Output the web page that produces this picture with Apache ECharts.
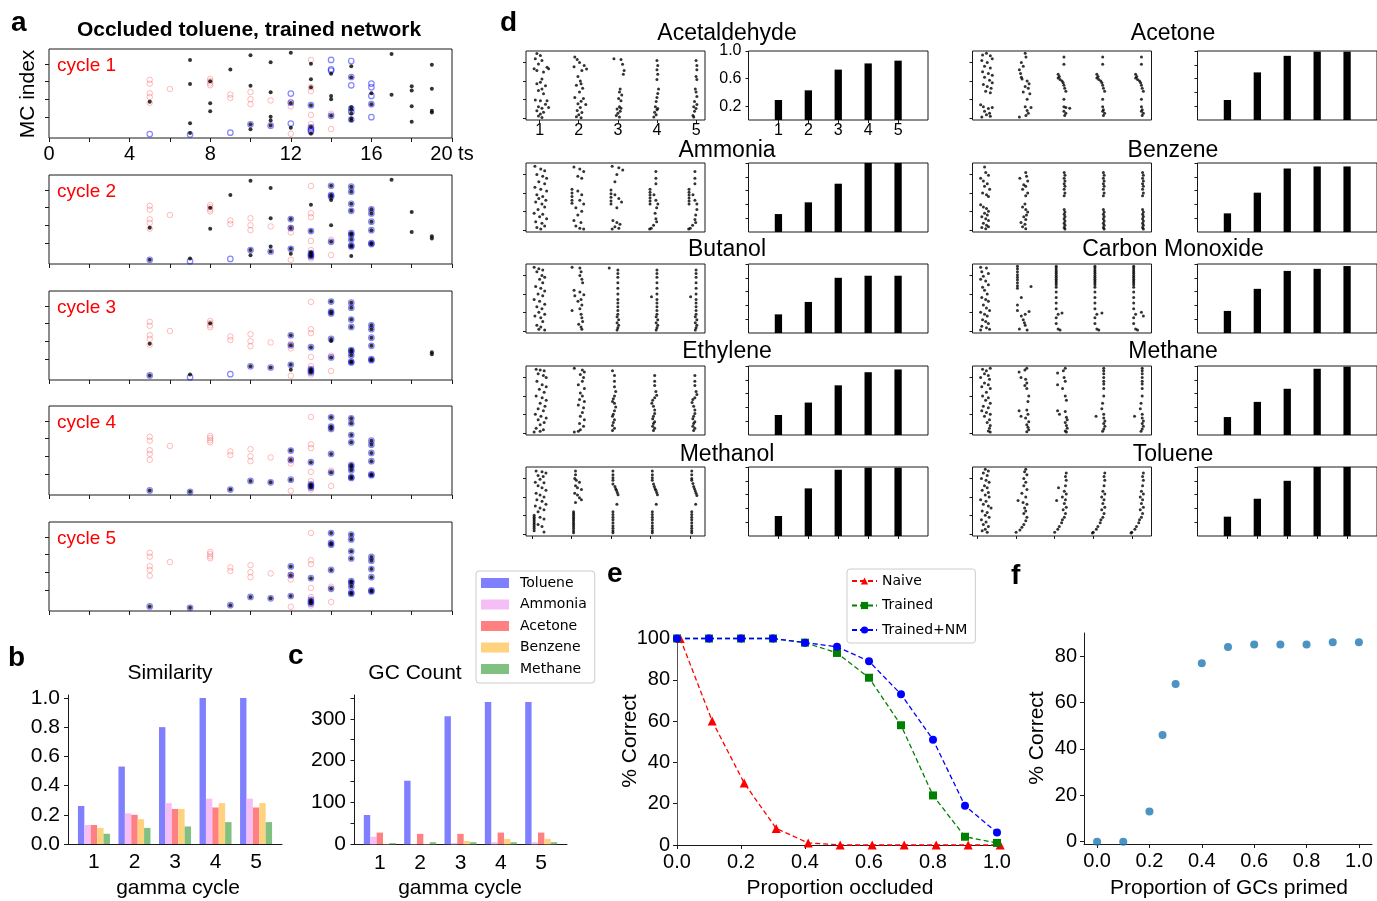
<!DOCTYPE html>
<html>
<head>
<meta charset="utf-8">
<script src="https://cdn.jsdelivr.net/npm/echarts@6/dist/echarts.min.js"></script>
<style>
html, body { margin: 0; padding: 0; background: #fff; }
#main { width: 1377px; height: 901px; }
</style>
</head>
<body>
<div id="main"></div>
<script>
// ---------- panel a : spike rasters, [time step, MC index] ----------
var pinkInput = [[5,31],[5,28.8],[5,23.4],[5,21.3],[5,18],[6,25.8],[8,31.5],[8,30.3],[8,29],[8,27.9],[9,22.7],[9,20.7],
  [10,24],[10,20],[10,17.2],[11,19.3],[12,18.5],[12,15.9],[12,0.4],[13,42.3],[13,26.8],[13,24.6],[13,11.1],[13,5.9],[13,1.1],[14,11.8],[14,3.1]];

var c1Navy = [];
var c1Blue = [[5,0.2],[7,0],[9,1],[10,5.8],[11,5],[12,23.2],[12,18],[12,6.2],[13,16.6],[13,4],[13,2.8],[13,1.9],[14,42.3],[14,37],[14,36.2],[14,10.6],
  [15,41.7],[15,32.6],[15,27.9],[15,14.7],[15,12.8],[15,8.5],[16,28.9],[16,26.8],[16,21.9],[16,17.2],[16,9.8]];
var c1Black = [[5,18.5],[7,42.3],[7,28.7],[7,6.4],[7,0.9],[8,30.2],[8,17.7],[8,13.2],[9,36.8],[10,44.9],[10,27.7],[10,5.8],[10,3],
  [11,41],[11,24],[11,10],[11,7.9],[11,5.1],[12,46.4],[12,17.9],[12,3.8],[13,40.2],[13,31.3],[13,26.8],[13,16.6],[13,4.3],[13,0.6],
  [14,34.5],[14,21.9],[14,20],[14,10.6],[15,38.7],[15,32.5],[15,15.5],[15,14.2],[15,11.9],[15,9],[15,8.1],[16,23.4],[16,17.2],
  [17,45.7],[17,22.5],[18,27.4],[18,24.9],[18,16],[18,7.2],[19,39.6],[19,26],[19,13.4],[19,12.5]];

var c2Navy = [[5,0.4],[10,5.9],[11,5.1],[12,23.5],[12,18.4],[12,6.6],[13,16.7],[13,4.2],[13,3],[13,2.3],[14,42.4],[14,37.1],[14,36.2],[14,10.6],
  [15,41.9],[15,39],[15,32.2],[15,28.2],[15,15.5],[15,14.6],[15,11.9],[15,8.5],[15,8],[16,29],[16,26.7],[16,22],[16,17.2],[16,9.8],[16,9.3]];
var c2Blue = [[7,-0.4],[9,0.9]];
var c2Black = [[5,18.6],[7,1.1],[8,29.9],[8,18],[9,37.1],[10,45.3],[10,3],[11,41.1],[11,24],[11,8],[12,3.8],[13,31.6],[13,4.5],
  [14,34.3],[14,20],[15,2.5],[17,45.8],[18,27.5],[18,16.1],[19,13.8],[19,12.5]];

var c3Navy = [[5,0.6],[10,5.8],[11,5.1],[12,23.4],[12,17.7],[12,6.6],[13,16.6],[13,4.2],[13,3.2],[13,2.3],[14,42.5],[14,36.8],[14,35.8],[14,21.3],[14,10.8],
  [15,41.9],[15,39],[15,32.3],[15,28.1],[15,15],[15,14.2],[15,12],[15,8.5],[15,7.9],[16,29],[16,26.8],[16,22],[16,17.4],[16,9.8],[16,9.2]];
var c3Blue = [[7,-0.4],[9,1.3]];
var c3Black = [[5,18.5],[7,1.1],[8,30.2],[12,3.8],[14,20.2],[19,13.8],[19,12.6]];

var c4Navy = [[5,0.6],[7,-0.2],[9,1.1],[10,6],[11,5.2],[12,23.2],[12,17.8],[12,6.7],[13,16.6],[13,4.1],[13,3.2],[13,2.2],[14,42.1],[14,36.8],[14,35.5],[14,21.3],[14,10.7],
  [15,41.5],[15,38.7],[15,32],[15,27.9],[15,15],[15,14],[15,12],[15,8.2],[15,7.7],[16,28.8],[16,26.5],[16,21.9],[16,17.2],[16,9.7],[16,9.2]];
var c4Blue = [];
var c4Black = [];

var c5Navy = [[5,0.6],[7,-0.2],[9,1.3],[10,6],[11,5.2],[12,23.3],[12,18.3],[12,6.5],[13,16.6],[13,4.3],[13,3.2],[13,2.2],[14,42.2],[14,36.6],[14,35.6],[14,21.3],[14,10.6],
  [15,41.4],[15,38.6],[15,31.9],[15,27.8],[15,14.9],[15,14],[15,11.9],[15,8.4],[15,7.8],[16,28.7],[16,26.5],[16,21.8],[16,17.2],[16,9.7],[16,9.1]];
var c5Blue = [];
var c5Black = [];

// ---------- panels b, c ----------
var cycles = [1, 2, 3, 4, 5];
var odorNames = ['Toluene', 'Ammonia', 'Acetone', 'Benzene', 'Methane'];
var odorColors = ['#8080ff', '#f5bff5', '#ff8080', '#ffd280', '#80c080'];
var simToluene = [0.26, 0.53, 0.80, 1.0, 1.0];
var simAmmonia = [0.13, 0.21, 0.28, 0.31, 0.31];
var simAcetone = [0.13, 0.20, 0.24, 0.25, 0.25];
var simBenzene = [0.11, 0.17, 0.24, 0.28, 0.28];
var simMethane = [0.07, 0.11, 0.12, 0.15, 0.15];
var gcToluene = [70, 152, 306, 340, 340];
var gcAmmonia = [18, 1, 3, 5, 5];
var gcAcetone = [28, 25, 25, 28, 28];
var gcBenzene = [1, 1, 8, 13, 13];
var gcMethane = [3, 5, 5, 5, 5];

// ---------- panel d : rasters as [offset from cycle (x100), MC index] per cycle ----------
var rasterAcetaldehyde = [
  [[-7,174],[2,169],[-11,160],[6,155],[-3,146],[-14,133],[-7,128],[19,137],[23,133],[10,124],[6,105],[2,96],[-7,92],[15,87],[6,78],[-3,74],[10,65],[-11,48],[2,46],[19,46],[15,37],[-3,30],[6,26],[23,28],[-7,19],[10,15],[2,10],[-3,5],[6,1]],
  [[-10,165],[-4,158],[2,150],[14,142],[-12,138],[8,128],[20,132],[-2,112],[4,100],[6,92],[-6,88],[10,80],[2,70],[-10,55],[12,52],[6,45],[-2,38],[18,36],[4,28],[-4,20],[8,14],[0,8],[-6,3],[6,0]],
  [[-10,160],[8,158],[12,145],[16,128],[14,118],[6,78],[4,70],[10,62],[2,52],[8,46],[4,30],[-2,24],[6,18],[0,12],[-4,6],[4,2],[8,26]],
  [[0,155],[2,142],[0,130],[2,118],[0,104],[4,78],[2,66],[0,55],[-2,44],[-4,30],[0,22],[-6,15],[-2,8],[-8,2],[2,25]],
  [[0,155],[2,142],[2,130],[0,112],[2,104],[-2,78],[0,70],[2,58],[-4,44],[-6,30],[0,25],[-4,18],[-8,6],[-6,2],[2,36]]
];
var rasterAmmonia = [
  [[10,172],[25,165],[35,160],[15,150],[30,145],[40,140],[20,130],[35,125],[10,115],[25,110],[40,105],[15,95],[30,90],[20,85],[38,80],[12,75],[28,70],[35,62],[18,55],[8,45],[30,42],[22,35],[40,30],[12,22],[28,18],[35,10],[15,6],[25,2]],
  [[10,170],[25,165],[35,158],[20,145],[30,140],[5,110],[5,100],[5,90],[5,80],[5,72],[20,105],[30,95],[25,80],[35,70],[15,60],[30,50],[20,40],[10,25],[28,20],[15,10],[25,4],[35,2]],
  [[8,172],[25,168],[35,162],[20,150],[15,130],[5,108],[5,98],[5,88],[5,78],[5,70],[15,95],[25,85],[32,75],[20,60],[10,25],[20,20],[28,15],[15,8],[25,4],[8,2]],
  [[20,158],[20,140],[20,125],[5,110],[5,102],[5,94],[5,86],[5,78],[5,70],[15,95],[20,80],[25,70],[22,60],[18,45],[20,30],[22,22],[14,12],[8,4],[4,2]],
  [[20,158],[20,140],[20,125],[5,110],[5,102],[5,94],[5,86],[5,78],[5,70],[15,95],[20,80],[25,70],[25,55],[22,40],[20,28],[22,20],[14,12],[8,4],[4,2]]
];
var rasterButanol = [
  [[8,172],[20,168],[30,165],[15,160],[28,150],[35,145],[22,140],[30,130],[12,120],[25,115],[35,108],[18,100],[30,95],[8,85],[22,80],[35,72],[15,65],[28,60],[20,50],[35,45],[10,40],[25,35],[30,25],[15,15],[25,10],[20,4],[35,2]],
  [[5,172],[25,170],[28,160],[25,150],[30,140],[32,130],[10,110],[25,105],[35,98],[12,95],[28,85],[20,80],[30,70],[5,55],[25,60],[28,45],[30,35],[32,25],[22,18],[28,10],[30,4]],
  [[0,170],[22,165],[22,155],[22,145],[22,130],[22,115],[22,100],[22,85],[22,75],[22,65],[22,55],[22,45],[20,38],[24,30],[20,22],[24,15],[22,8],[20,2]],
  [[22,165],[22,155],[22,145],[22,130],[22,115],[22,100],[8,92],[22,85],[22,75],[22,65],[22,55],[22,45],[20,38],[24,30],[20,22],[24,15],[22,8],[20,2]],
  [[22,165],[22,155],[22,145],[22,130],[22,115],[22,100],[8,92],[22,85],[22,75],[22,65],[22,55],[22,45],[20,38],[24,30],[20,22],[24,15],[22,8],[20,2]]
];
var rasterEthylene = [
  [[10,172],[20,170],[30,168],[15,160],[28,155],[35,150],[12,140],[25,130],[35,125],[18,118],[30,110],[10,100],[25,95],[35,88],[20,80],[32,72],[15,65],[28,60],[8,50],[22,45],[35,40],[15,35],[30,28],[20,22],[10,12],[28,8],[5,2],[20,4]],
  [[5,175],[25,170],[30,165],[20,158],[28,150],[25,140],[15,130],[30,120],[20,108],[25,100],[18,90],[30,85],[15,75],[28,68],[25,55],[20,45],[30,35],[18,25],[28,18],[5,2],[20,8],[15,4]],
  [[0,168],[5,155],[5,140],[5,125],[8,112],[5,100],[2,92],[0,85],[5,80],[8,70],[5,60],[2,50],[0,45],[5,35],[2,28],[0,20],[5,12],[0,6]],
  [[5,155],[5,140],[5,128],[8,112],[10,102],[5,95],[0,88],[-2,80],[2,72],[5,62],[5,52],[2,45],[0,38],[5,30],[2,25],[0,18],[5,12],[2,6]],
  [[5,155],[5,140],[5,128],[8,112],[10,104],[5,95],[0,90],[-2,82],[2,72],[5,62],[5,52],[2,45],[0,38],[5,30],[2,25],[0,18],[5,12],[2,6]]
];
var rasterMethanol = [
  [[10,170],[25,168],[35,165],[15,158],[28,155],[20,148],[8,140],[30,138],[15,130],[25,125],[35,118],[10,110],[20,105],[30,100],[12,92],[25,88],[35,80],[8,75],[20,70],[30,65],[15,60],[5,50],[5,45],[5,40],[5,35],[5,30],[5,25],[5,20],[5,14],[5,8],[20,45],[30,40],[15,25],[25,20],[30,5]],
  [[10,170],[10,160],[8,150],[12,145],[20,140],[10,130],[15,125],[25,120],[8,110],[15,105],[20,98],[25,92],[10,85],[5,60],[5,55],[5,50],[5,45],[5,40],[5,35],[5,30],[5,25],[5,20],[5,14],[5,8],[5,3]],
  [[5,170],[5,160],[5,152],[5,145],[5,135],[10,128],[12,122],[14,118],[16,112],[18,106],[15,80],[5,60],[5,52],[5,45],[5,38],[5,30],[5,22],[5,15],[5,8],[5,3]],
  [[5,170],[5,160],[5,152],[5,145],[8,135],[10,128],[12,122],[14,118],[16,112],[18,106],[15,80],[5,60],[5,52],[5,45],[5,38],[5,30],[5,22],[5,15],[5,8],[5,3]],
  [[5,170],[5,160],[5,150],[5,145],[8,136],[10,128],[12,122],[14,116],[16,110],[18,104],[15,80],[5,60],[5,52],[5,45],[5,38],[5,30],[5,22],[5,15],[5,8],[5,3]]
];
var rasterAcetone = [
  [[10,170],[20,175],[30,168],[35,160],[8,155],[22,150],[15,140],[30,135],[10,125],[25,120],[35,115],[15,110],[28,102],[35,95],[12,90],[22,85],[32,80],[18,72],[30,68],[5,35],[12,30],[25,25],[35,28],[15,18],[28,12],[20,8],[8,2],[30,4]],
  [[20,175],[22,165],[10,150],[15,140],[5,130],[8,120],[10,110],[12,105],[25,100],[30,92],[20,85],[28,80],[15,70],[32,65],[25,50],[20,30],[35,28],[25,20],[28,12],[22,6],[5,2]],
  [[20,165],[20,145],[5,118],[8,112],[5,108],[10,104],[15,100],[18,95],[20,88],[22,80],[25,72],[20,50],[20,30],[25,28],[35,26],[20,18],[25,12],[22,6]],
  [[20,165],[20,145],[5,118],[8,112],[5,108],[10,104],[15,100],[18,95],[20,88],[22,80],[25,72],[20,50],[20,30],[22,22],[20,18],[25,12],[22,6]],
  [[20,165],[20,145],[5,118],[8,112],[5,108],[10,104],[15,100],[18,95],[20,88],[22,80],[25,72],[20,50],[20,30],[22,22],[20,18],[25,12],[22,6]]
];
var rasterBenzene = [
  [[15,170],[18,155],[5,140],[25,148],[12,132],[22,125],[15,118],[28,110],[10,100],[20,95],[25,90],[5,68],[12,62],[20,58],[25,50],[15,45],[22,40],[8,35],[18,30],[25,25],[12,18],[20,12],[8,6],[18,3],[25,8]],
  [[20,155],[22,145],[5,140],[25,132],[15,122],[20,118],[12,110],[25,100],[20,92],[18,70],[12,62],[20,55],[25,48],[22,40],[15,35],[20,28],[8,20],[18,15],[12,8],[20,3]],
  [[18,155],[20,148],[18,140],[20,132],[18,125],[20,118],[18,110],[20,100],[18,92],[18,55],[20,48],[18,42],[20,36],[18,30],[20,24],[18,18],[20,12],[18,6],[20,2]],
  [[18,155],[20,148],[18,140],[20,132],[18,125],[20,118],[18,110],[20,100],[18,92],[18,55],[20,48],[18,42],[20,36],[18,30],[20,24],[18,18],[20,12],[18,6],[20,2]],
  [[18,155],[20,148],[18,140],[20,132],[18,125],[20,118],[18,110],[20,100],[18,92],[18,55],[20,48],[18,42],[20,36],[18,30],[20,24],[18,18],[20,12],[18,6],[20,2]]
];
var rasterCarbonMonoxide = [
  [[5,172],[20,170],[8,160],[25,155],[12,148],[5,140],[18,135],[25,125],[10,118],[15,110],[22,100],[8,90],[18,85],[25,80],[12,70],[20,62],[28,55],[5,50],[15,45],[22,40],[10,30],[18,25],[25,20],[8,12],[20,8],[28,4],[5,2]],
  [[0,175],[0,168],[0,160],[0,152],[0,145],[0,138],[0,130],[0,122],[0,115],[35,120],[10,90],[0,70],[0,55],[30,52],[20,45],[10,40],[15,30],[18,22],[20,15],[5,5],[25,2]],
  [[0,175],[0,170],[0,165],[0,160],[0,155],[0,150],[0,145],[0,140],[0,135],[0,130],[0,125],[0,118],[0,105],[0,90],[0,75],[0,60],[5,45],[15,48],[0,35],[0,20],[5,5],[10,2]],
  [[0,175],[0,170],[0,165],[0,160],[0,155],[0,150],[0,145],[0,140],[0,135],[0,130],[0,125],[0,118],[0,105],[0,90],[0,75],[0,60],[5,45],[18,48],[0,35],[0,20],[5,5],[10,2]],
  [[0,175],[0,170],[0,165],[0,160],[0,155],[0,150],[0,145],[0,140],[0,135],[0,130],[0,125],[0,118],[0,105],[0,90],[0,75],[0,60],[5,45],[20,50],[0,35],[0,20],[5,5],[10,2],[25,40]]
];
var rasterMethane = [
  [[10,172],[20,168],[30,175],[15,160],[25,155],[5,150],[28,145],[15,135],[25,130],[8,125],[30,120],[20,110],[10,100],[25,95],[18,88],[30,80],[12,72],[25,68],[8,60],[20,55],[30,50],[15,45],[28,35],[22,28],[30,20],[28,12],[25,5],[30,2]],
  [[5,165],[20,170],[25,175],[10,150],[22,145],[25,135],[20,128],[25,120],[30,100],[28,85],[5,60],[25,62],[28,50],[10,45],[22,40],[30,30],[25,22],[28,15],[30,8],[25,3]],
  [[5,162],[20,168],[25,175],[22,150],[25,140],[5,130],[18,120],[25,100],[28,88],[5,60],[10,50],[25,58],[28,42],[30,35],[25,28],[28,20],[30,12],[25,5],[28,2]],
  [[25,175],[25,168],[25,160],[25,150],[25,140],[25,132],[25,120],[25,100],[22,80],[20,65],[5,45],[25,50],[25,40],[28,32],[25,25],[28,18],[25,10],[22,4]],
  [[25,175],[25,168],[25,160],[25,150],[25,140],[25,132],[25,120],[25,100],[22,80],[20,65],[5,45],[25,50],[25,40],[28,32],[25,25],[28,18],[25,10],[22,4]]
];
var rasterToluene = [
  [[20,175],[28,170],[15,165],[25,158],[10,150],[22,145],[30,140],[18,130],[25,125],[12,118],[28,112],[20,105],[30,100],[8,92],[22,88],[15,80],[28,75],[35,70],[12,62],[25,58],[20,50],[30,45],[10,38],[22,32],[15,25],[28,20],[20,12],[12,8],[25,4]],
  [[25,175],[22,168],[28,160],[20,150],[25,140],[20,130],[28,120],[15,110],[25,100],[5,90],[18,85],[28,80],[22,70],[25,62],[20,55],[28,45],[25,35],[20,25],[15,18],[10,10],[0,4]],
  [[30,165],[28,155],[30,145],[28,130],[10,125],[25,115],[30,108],[20,100],[28,92],[5,90],[25,82],[30,72],[22,65],[28,55],[25,45],[20,38],[18,30],[12,20],[8,12],[0,4]],
  [[30,165],[28,155],[30,145],[28,130],[25,115],[30,108],[22,100],[28,92],[25,82],[30,72],[22,65],[28,55],[25,45],[20,38],[18,30],[12,20],[8,12],[0,4],[-2,2]],
  [[30,165],[28,155],[30,145],[28,130],[25,115],[30,108],[22,100],[28,92],[25,82],[30,72],[22,65],[28,55],[25,45],[20,38],[18,30],[12,20],[8,12],[0,4],[-2,2]]
];
var barAcetaldehyde = [0.29, 0.43, 0.73, 0.82, 0.86];
var barAmmonia = [0.26, 0.43, 0.70, 1.0, 1.0];
var barButanol = [0.27, 0.45, 0.80, 0.83, 0.83];
var barEthylene = [0.29, 0.47, 0.72, 0.91, 0.95];
var barMethanol = [0.29, 0.69, 0.96, 0.99, 0.99];
var barAcetone = [0.29, 0.69, 0.93, 0.99, 0.99];
var barBenzene = [0.27, 0.57, 0.92, 0.95, 0.95];
var barCarbonMonoxide = [0.32, 0.64, 0.90, 0.93, 0.97];
var barMethane = [0.26, 0.48, 0.67, 0.96, 0.99];
var barToluene = [0.28, 0.54, 0.80, 1.0, 1.0];

// ---------- panel e ----------
var occluded = [0, 0.1, 0.2, 0.3, 0.4, 0.5, 0.6, 0.7, 0.8, 0.9, 1.0];
var naiveOccluded = [0.01, 0.11, 0.21, 0.31, 0.41, 0.51, 0.61, 0.71, 0.81, 0.91, 1.01];
var naiveCorrect = [100, 60, 30, 8, 1, 0, 0, 0, 0, 0, 0];
var trainedCorrect = [100, 100, 100, 100, 98, 93, 81, 58, 24, 4, 1];
var trainedNMCorrect = [100, 100, 100, 100, 98, 96, 89, 73, 51, 19, 6];

// ---------- panel f ----------
var primedFrac = [0, 0.1, 0.2, 0.25, 0.3, 0.4, 0.5, 0.6, 0.7, 0.8, 0.9, 1.0];
var primedCorrect = [0, 0, 13, 46, 68, 77, 84, 85, 85, 85, 86, 86];

var FONT = '"Liberation Sans", Arial, sans-serif';
var INK = '#1a1a1a';
var grid = [], xAxis = [], yAxis = [], series = [], graphic = [];

function panel(g, xa, ya) {
  g.outerBoundsMode = 'none';
  g.containLabel = false;
  grid.push(g);
  var i = grid.length - 1;
  xa.gridIndex = i; ya.gridIndex = i;
  xAxis.push(xa); yAxis.push(ya);
  return i;
}
function boxGrid(left, top, w, h) {
  return { left: left, top: top, width: w, height: h, show: true, borderColor: INK, borderWidth: 1, backgroundColor: 'rgba(0,0,0,0)' };
}
function openGrid(left, top, w, h) {
  return { left: left, top: top, width: w, height: h, show: false };
}
function axis(o) {
  var a = { type: 'value', splitLine: { show: false }, axisLine: { show: false, onZero: false },
    axisTick: { show: false }, axisLabel: { show: false }, minorTick: { show: false } };
  for (var k in o) a[k] = o[k];
  return a;
}
function ticks(vals, len) {
  var t = { show: true, inside: false, length: len || 4, lineStyle: { color: INK, width: 1 } };
  if (vals) t.customValues = vals;
  return t;
}
function labels(size, margin, extra) {
  var l = { show: true, fontSize: size, color: '#000', fontFamily: FONT, margin: margin };
  for (var k in extra) l[k] = extra[k];
  return l;
}
function spine(color) {
  return { show: true, onZero: false, lineStyle: { color: color || INK, width: 1 } };
}
function txt(x, y, s, size, opt) {
  opt = opt || {};
  return { type: 'text', x: x, y: y, rotation: opt.rot || 0, z: 100, silent: true,
    style: { text: s, font: (opt.bold ? 'bold ' : '') + size + 'px ' + FONT, fill: opt.color || '#000',
      textAlign: opt.align || 'center', textVerticalAlign: 'middle' } };
}
function dots(gi, data, size, style, z) {
  return { type: 'scatter', xAxisIndex: gi, yAxisIndex: gi, data: data, symbol: 'circle',
    symbolSize: size, itemStyle: style, z: z, silent: true, animation: false };
}

// ---------- panel a ----------
var aTops = [49, 175, 291, 406, 522];
var aCycles = [[c1Navy, c1Blue, c1Black], [c2Navy, c2Blue, c2Black], [c3Navy, c3Blue, c3Black],
  [c4Navy, c4Blue, c4Black], [c5Navy, c5Blue, c5Black]];
for (var k = 0; k < 5; k++) {
  var ga = panel(boxGrid(49, aTops[k], 403, 89),
    axis({ min: 0, max: 20, axisTick: ticks([0, 2, 4, 6, 8, 10, 12, 14, 16, 18, 20]),
      axisLabel: k === 0 ? labels(20, 6, { customValues: [0, 4, 8, 12, 16, 20],
        formatter: function (v) { return v === 20 ? '20 ts' : String(v); } }) : { show: false } }),
    axis({ min: -2, max: 48.5, axisTick: ticks([10, 20, 30, 40]) }));
  var cyc = aCycles[k];
  series.push(dots(ga, pinkInput, 5.5, { color: 'rgba(0,0,0,0)', borderColor: 'rgba(255,70,70,0.45)', borderWidth: 1 }, 2));
  series.push(dots(ga, cyc[0].concat(cyc[1]), 5.5, { color: 'rgba(0,0,0,0)', borderColor: 'rgba(0,0,255,0.6)', borderWidth: 1.2 }, 3));
  series.push(dots(ga, cyc[0].concat(cyc[2]), 4, { color: '#000' }, 4));
  graphic.push(txt(57, aTops[k] + 17, 'cycle ' + (k + 1), 19, { color: '#ff0000', align: 'left' }));
}
graphic.push(txt(249, 30, 'Occluded toluene, trained network', 21, { bold: true }));
graphic.push(txt(28, 94, 'MC index', 21, { rot: Math.PI / 2 }));

// ---------- panels b, c ----------
var simValues = [simToluene, simAmmonia, simAcetone, simBenzene, simMethane];
var gcValues = [gcToluene, gcAmmonia, gcAcetone, gcBenzene, gcMethane];
var gb = panel(openGrid(68, 695, 214, 149),
  axis({ min: 0.36, max: 5.64, axisLine: spine(), axisLabel: labels(21, 8, { customValues: cycles }) }),
  axis({ min: 0, max: 1.02, axisLine: spine(), axisTick: ticks([0, 0.2, 0.4, 0.6, 0.8, 1.0]),
    axisLabel: labels(21, 8, { customValues: [0, 0.2, 0.4, 0.6, 0.8, 1.0], formatter: function (v) { return v.toFixed(1); } }) }));
var gc = panel(openGrid(354, 695, 213, 149.3),
  axis({ min: 0.36, max: 5.64, axisLine: spine(), axisLabel: labels(21, 8, { customValues: cycles }) }),
  axis({ min: 0, max: 357, axisLine: spine(), axisTick: ticks([0, 50, 100, 150, 200, 250, 300, 350], 3.5),
    axisLabel: labels(21, 8, { customValues: [0, 100, 200, 300] }) }));
for (var j = 0; j < 5; j++) {
  [[gb, simValues[j]], [gc, gcValues[j]]].forEach(function (p) {
    series.push({ type: 'bar', name: odorNames[j], xAxisIndex: p[0], yAxisIndex: p[0],
      data: cycles.map(function (c, i) { return [c, p[1][i]]; }),
      barWidth: 6.4, barGap: '0%', itemStyle: { color: odorColors[j] }, animation: false });
  });
}
graphic.push(txt(170, 673, 'Similarity', 21));
graphic.push(txt(178, 888, 'gamma cycle', 21));
graphic.push(txt(415, 673, 'GC Count', 21));
graphic.push(txt(460, 888, 'gamma cycle', 21));

// ---------- panel d ----------
var dRows = [51, 163, 264, 366, 467];
var dCols = [
  { names: ['Acetaldehyde', 'Ammonia', 'Butanol', 'Ethylene', 'Methanol'],
    rasters: [rasterAcetaldehyde, rasterAmmonia, rasterButanol, rasterEthylene, rasterMethanol],
    bars: [barAcetaldehyde, barAmmonia, barButanol, barEthylene, barMethanol],
    rasterLeft: 526, barLeft: 748.5, titleX: 727 },
  { names: ['Acetone', 'Benzene', 'Carbon Monoxide', 'Methane', 'Toluene'],
    rasters: [rasterAcetone, rasterBenzene, rasterCarbonMonoxide, rasterMethane, rasterToluene],
    bars: [barAcetone, barBenzene, barCarbonMonoxide, barMethane, barToluene],
    rasterLeft: 972.5, barLeft: 1197.5, titleX: 1173 }
];
var dTitleY = [34, 151, 250, 352, 455];
function rasterPoints(cols) {
  var pts = [];
  cols.forEach(function (col, c) {
    col.forEach(function (p) { pts.push([c + 1 + p[0] / 100, p[1]]); });
  });
  return pts;
}
function padMin(v) { return v.min - 0.05 * (v.max - v.min); }
function padMax(v) { return v.max + 0.05 * (v.max - v.min); }
dCols.forEach(function (col, ci) {
  for (var r = 0; r < 5; r++) {
    var first = (ci === 0 && r === 0);
    var showX = (r === 0 && ci === 0) || r === 4;
    var gr = panel(boxGrid(col.rasterLeft, dRows[r], 179, 69),
      axis({ min: padMin, max: padMax, axisTick: showX ? ticks(cycles, 3) : { show: false },
        axisLabel: first ? labels(16, 3, { customValues: cycles }) : { show: false } }),
      axis({ min: -6, max: 181, axisTick: ticks([0, 50, 100, 150], 3) }));
    series.push(dots(gr, rasterPoints(col.rasters[r]), 3, { color: '#000' }, 3));

    var gbar = panel(boxGrid(col.barLeft, dRows[r], 179.5, 69),
      axis({ min: 0, max: 6, axisTick: showX ? ticks(cycles, 3) : { show: false },
        axisLabel: first ? labels(16, 3, { customValues: cycles }) : { show: false } }),
      axis({ min: 0, max: 1, axisTick: first ? ticks([0.2, 0.6, 1.0], 3) : ticks([0.2, 0.4, 0.6, 0.8, 1.0], 3),
        axisLabel: first ? labels(16, 7, { customValues: [0.2, 0.6, 1.0], formatter: function (v) { return v.toFixed(1); } }) : { show: false } }));
    var bv = col.bars[r];
    series.push({ type: 'bar', xAxisIndex: gbar, yAxisIndex: gbar, barWidth: 7.3,
      data: cycles.map(function (c, i) { return [c, bv[i]]; }), itemStyle: { color: '#000' }, animation: false });
    graphic.push(txt(col.titleX, dTitleY[r], col.names[r], 23));
  }
});

// ---------- panel e ----------
var ge = panel(openGrid(677, 638.5, 320, 206.5),
  axis({ min: 0, max: 1, interval: 0.2, axisLine: spine(), axisTick: ticks(),
    axisLabel: labels(20, 7, { formatter: function (v) { return v.toFixed(1); } }) }),
  axis({ min: 0, max: 100, interval: 20, axisLine: spine('#555'), axisTick: ticks(), axisLabel: labels(20, 7) }));
function curve(name, xs, ys, color, symbol, size) {
  return { type: 'line', name: name, xAxisIndex: ge, yAxisIndex: ge, clip: false, animation: false,
    data: xs.map(function (x, i) { return [x, ys[i]]; }),
    symbol: symbol, symbolSize: size, showAllSymbol: true,
    lineStyle: { color: color, width: 1.3, type: [5, 3] }, itemStyle: { color: color } };
}
series.push(curve('Naive', naiveOccluded, naiveCorrect, '#ff0000', 'triangle', 9));
series.push(curve('Trained', occluded, trainedCorrect, '#008000', 'rect', 8));
series.push(curve('Trained+NM', occluded, trainedNMCorrect, '#0000ff', 'circle', 8));
graphic.push(txt(630, 741, '% Correct', 21, { rot: Math.PI / 2 }));
graphic.push(txt(840, 888, 'Proportion occluded', 21));

// ---------- panel f ----------
var gf = panel(openGrid(1084, 633, 288, 211),
  axis({ min: -0.05, max: 1.05, axisLine: spine(), axisTick: ticks([0, 0.2, 0.4, 0.6, 0.8, 1.0]),
    axisLabel: labels(20, 7, { customValues: [0, 0.2, 0.4, 0.6, 0.8, 1.0], formatter: function (v) { return v.toFixed(1); } }) }),
  axis({ min: -1, max: 90, axisLine: spine(), axisTick: ticks([0, 20, 40, 60, 80]),
    axisLabel: labels(20, 7, { customValues: [0, 20, 40, 60, 80] }) }));
series.push(dots(gf, primedFrac.map(function (x, i) { return [x, primedCorrect[i]]; }), 8, { color: '#1f77b4' }, 3));
graphic.push(txt(1037, 738, '% Correct', 21, { rot: Math.PI / 2 }));
graphic.push(txt(1229, 888, 'Proportion of GCs primed', 21));

// panel letters
[['a', 11, 23], ['b', 8, 658], ['c', 288, 656], ['d', 500, 23], ['e', 607, 574], ['f', 1011, 576]].forEach(function (p) {
  graphic.push(txt(p[1], p[2], p[0], 28, { bold: true, align: 'left' }));
});

var chart = echarts.init(document.getElementById('main'), null, { renderer: 'canvas' });
chart.setOption({
  animation: false,
  backgroundColor: '#fff',
  grid: grid,
  xAxis: xAxis,
  yAxis: yAxis,
  legend: [
    { data: odorNames, orient: 'vertical', left: 476, top: 571, icon: 'rect', itemWidth: 28, itemHeight: 10,
      itemGap: 7.5, padding: [5, 8, 7, 5], borderColor: '#cccccc', borderWidth: 1, borderRadius: 3,
      backgroundColor: '#fff', textStyle: { fontFamily: 'DejaVu Sans', fontSize: 14, color: '#000', padding: [0, 0, 0, 6] } },
    { data: ['Naive', 'Trained', 'Trained+NM'], orient: 'vertical', left: 847, top: 569, itemWidth: 25, itemHeight: 9,
      itemGap: 10.5, padding: [5, 8, 6, 4], borderColor: '#cccccc', borderWidth: 1, borderRadius: 3,
      backgroundColor: '#fff', textStyle: { fontFamily: 'DejaVu Sans', fontSize: 14, color: '#000' } }
  ],
  series: series,
  graphic: graphic
});
</script>
</body>
</html>
